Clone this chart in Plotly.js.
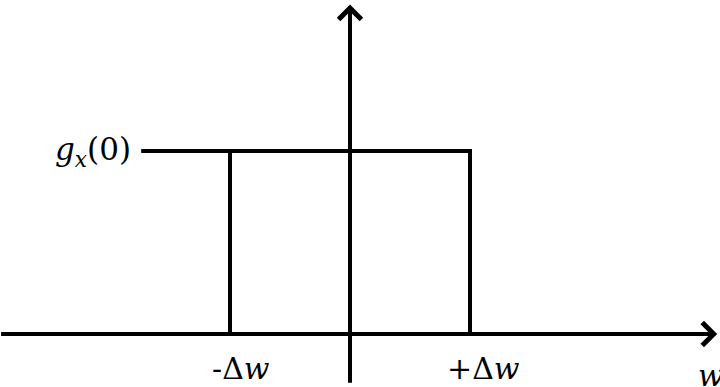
<!DOCTYPE html>
<html>
<head>
<meta charset="utf-8">
<script src="https://cdn.plot.ly/plotly-3.0.1.min.js"></script>
<style>
  html, body { margin: 0; padding: 0; background: #fff; }
  #chart { width: 720px; height: 387px; }
</style>
</head>
<body>
<div id="chart"></div>
<script>
// Ideal low-pass spectrum: flat at g_x(0) between -Δw and +Δw
const deltaW = 1;
const gZero = 1;
const leaderStart = -1.74;           // start of the g_x(0) leader line
const edgeX = [-deltaW, deltaW];
const tickLabels = ['-Δ<i>w</i>', '+Δ<i>w</i>'];
const levelLabel = '<i>g</i><sub><i>x</i></sub>(0)';
const axisLabel = '<i>w</i>';

// axis extents (data units)
const xAxisFrom = -2.92, xAxisTo = 3.06;
const yAxisFrom = -0.275, yAxisTo = 1.80;

const ink = '#000';
const serif = 'DejaVu Serif';

// top edge + leader, right edge, then left edge
const boxX = [leaderStart, edgeX[1], edgeX[1], null, edgeX[0], edgeX[0]];
const boxY = [gZero, gZero, 0, null, 0, gZero];

const traces = [{
  type: 'scatter',
  mode: 'lines',
  x: boxX,
  y: boxY,
  line: { color: ink, width: 4 },
  hoverinfo: 'skip',
  connectgaps: false
}];

const arrow = (x, y, ax, ay) => ({
  x: x, y: y, ax: ax, ay: ay,
  xref: 'x', yref: 'y', axref: 'x', ayref: 'y',
  text: '', showarrow: true,
  arrowhead: 4, arrowsize: 1.1, arrowwidth: 4, arrowcolor: ink,
  standoff: 0, startstandoff: 0
});

const label = (text, x, y, xanchor, size, extra) => Object.assign({
  text: text, x: x, y: y, xref: 'x', yref: 'y',
  xanchor: xanchor, yanchor: 'middle', showarrow: false,
  font: { family: serif, size: size, color: ink }
}, extra || {});

const layout = {
  width: 720, height: 387,
  margin: { l: 0, r: 0, t: 0, b: 0, pad: 0 },
  paper_bgcolor: '#fff', plot_bgcolor: '#fff',
  showlegend: false,
  font: { family: serif },
  xaxis: {
    range: [-350 / 120, 370 / 120],
    visible: false, fixedrange: true
  },
  yaxis: {
    range: [(334 - 387) / 183, 334 / 183],
    visible: false, fixedrange: true
  },
  annotations: [
    arrow(xAxisTo, 0, xAxisFrom, 0),
    arrow(0, yAxisTo, 0, yAxisFrom),
    label(levelLabel, leaderStart - 0.07, gZero, 'right', 31),
    label(tickLabels[0], edgeX[0], -0.19, 'center', 30, { xshift: 11 }),
    label(tickLabels[1], edgeX[1], -0.19, 'center', 30, { xshift: 13 }),
    label(axisLabel, 2.88, -0.225, 'left', 30)
  ]
};

Plotly.newPlot('chart', traces, layout, { staticPlot: true, displayModeBar: false });
</script>
</body>
</html>
